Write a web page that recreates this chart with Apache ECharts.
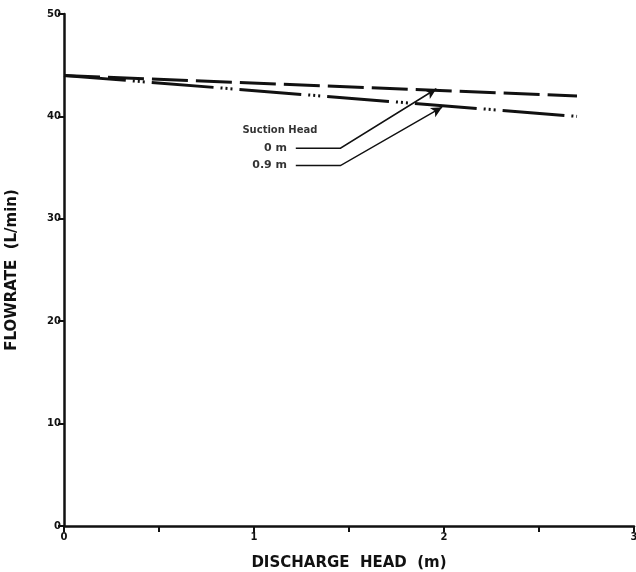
<!DOCTYPE html>
<html>
<head>
<meta charset="utf-8">
<script src="https://cdn.jsdelivr.net/npm/echarts@6/dist/echarts.min.js"></script>
<style>
  html, body { margin: 0; padding: 0; background: #fff; }
  #chart { width: 636px; height: 572px; }
</style>
</head>
<body>
<div id="chart"></div>
<script>
// discharge head (m) and flowrate (L/min) for each suction head
const dischargeHead = [0, 2.7];
const flow0m = [44, 42];
const flow09m = [44, 40];

// legend text and leader lines (data coordinates)
const legendTitle = { name: "Suction Head", pos: [1.36, 38.6] };
const legendLabels = [
  { name: "0 m", pos: [1.2, 36.9] },
  { name: "0.9 m", pos: [1.2, 35.2] },
];
const leaders = [
  [[1.22, 36.9], [1.455, 36.9], [1.96, 42.7]],
  [[1.22, 35.2], [1.455, 35.2], [1.99, 40.9]],
];

const ink = "#111";
const font = "DejaVu Sans";

const chart = echarts.init(document.getElementById("chart"));

function buildOption(arrowHeads) {
  return {
    backgroundColor: "#fff",
    animation: false,
    grid: { left: 64, right: 2, top: 14, bottom: 46, outerBoundsMode: "none", containLabel: false },
    xAxis: {
      type: "value",
      min: 0,
      max: 3,
      interval: 1,
      name: "DISCHARGE  HEAD  (m)",
      nameLocation: "middle",
      nameGap: 30,
      nameTextStyle: { color: ink, fontFamily: font, fontWeight: "bold", fontSize: 15 },
      axisLine: { lineStyle: { color: ink, width: 2.5 } },
      axisTick: { show: true, length: 6, lineStyle: { color: ink, width: 2 } },
      minorTick: { show: true, splitNumber: 2, length: 6, lineStyle: { color: ink, width: 2 } },
      axisLabel: { color: ink, fontFamily: font, fontWeight: "bold", fontSize: 10, margin: 6 },
      splitLine: { show: false },
    },
    yAxis: {
      type: "value",
      min: 0,
      max: 50,
      interval: 10,
      name: "FLOWRATE  (L/min)",
      nameLocation: "middle",
      nameGap: 44,
      nameTextStyle: { color: ink, fontFamily: font, fontWeight: "bold", fontSize: 15 },
      axisLine: { show: true, lineStyle: { color: ink, width: 2.5 } },
      axisTick: { show: true, length: 6, lineStyle: { color: ink, width: 2 } },
      axisLabel: { color: ink, fontFamily: font, fontWeight: "bold", fontSize: 10, margin: 3 },
      splitLine: { show: false },
    },
    series: [
      {
        name: "0 m",
        type: "line",
        data: dischargeHead.map((x, i) => [x, flow0m[i]]),
        symbol: "none",
        lineStyle: { color: ink, width: 3, type: [36, 8] },
      },
      {
        name: "0.9 m",
        type: "line",
        data: dischargeHead.map((x, i) => [x, flow09m[i]]),
        symbol: "none",
        lineStyle: { color: ink, width: 3, type: [62, 7, 2, 3, 2, 3, 2, 7] },
      },
      {
        type: "lines",
        coordinateSystem: "cartesian2d",
        polyline: true,
        lineStyle: { color: ink, width: 1.5, opacity: 1 },
        data: leaders.map((c) => ({ coords: c })),
        z: 5,
      },
      {
        // arrow heads at the end of each leader line
        type: "scatter",
        silent: true,
        symbol: "arrow",
        symbolSize: [8, 11],
        itemStyle: { color: ink, opacity: 1 },
        data: arrowHeads,
        z: 6,
      },
      {
        type: "scatter",
        symbolSize: 0,
        silent: true,
        data: [legendTitle].map((d) => ({ name: d.name, value: d.pos })),
        label: {
          show: true,
          position: "left",
          formatter: "{b}",
          color: "#000",
          fontFamily: font,
          fontWeight: "bold",
          fontSize: 10,
        },
      },
      {
        type: "scatter",
        symbolSize: 0,
        silent: true,
        data: legendLabels.map((d) => ({ name: d.name, value: d.pos })),
        label: {
          show: true,
          position: "left",
          formatter: "{b}",
          color: "#000",
          fontFamily: font,
          fontWeight: "bold",
          fontSize: 11,
        },
      },
    ],
  };
}

chart.setOption(buildOption([]));

// orient arrow heads along the last leader segment (pixel space)
const arrowHeads = leaders.map((c) => {
  const a = chart.convertToPixel({ gridIndex: 0 }, c[c.length - 2]);
  const b = chart.convertToPixel({ gridIndex: 0 }, c[c.length - 1]);
  const ang = Math.atan2(a[1] - b[1], b[0] - a[0]) * 180 / Math.PI;
  return { value: c[c.length - 1], symbolRotate: ang - 90 };
});
chart.setOption(buildOption(arrowHeads));
</script>
</body>
</html>
